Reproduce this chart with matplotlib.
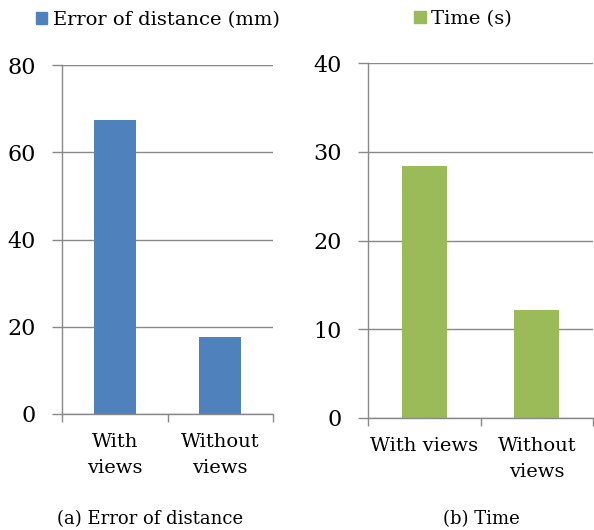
import matplotlib
matplotlib.use('Agg')
from matplotlib import pyplot as plt
from matplotlib.patches import Patch

plt.rcParams['font.family'] = ['DejaVu Serif']

labels_a = ['With\nviews', 'Without\nviews']
error_mm = [67.4, 17.7]
labels_b = ['With views', 'Without\nviews']
time_s = [28.4, 12.2]

blue = '#4F81BD'
green = '#9BBB59'
grey = '#888888'

fig = plt.figure(figsize=(5.94, 5.30), dpi=100)
ax1 = fig.add_axes([62/594, 1-414/530, 211/594, 349/530])
ax2 = fig.add_axes([368/594, 1-418/530, 225/594, 355/530])


def style(ax, labels, vals, color, ymax, step):
    x = range(len(vals))
    ax.bar(x, vals, width=0.4, color=color, zorder=3)
    ax.set_xlim(-0.5, len(vals) - 0.5)
    ax.set_ylim(0, ymax)
    ax.set_yticks(range(0, ymax + 1, step))
    ax.set_xticks(list(x))
    ax.set_xticklabels(labels, fontsize=14, linespacing=1.55)
    ax.set_xticks([i - 0.5 for i in range(len(vals) + 1)], minor=True)
    ax.tick_params(axis='x', which='major', length=0, pad=14)
    ax.tick_params(axis='x', which='minor', length=6, color=grey, width=1)
    ax.tick_params(axis='y', length=7, color=grey, width=1, labelsize=16, pad=12)
    ax.yaxis.grid(True, color=grey, linewidth=1, zorder=0)
    for s in ['top', 'right']:
        ax.spines[s].set_visible(False)
    for s in ['left', 'bottom']:
        ax.spines[s].set_color(grey)
        ax.spines[s].set_linewidth(1)
        ax.spines[s].set_zorder(4)


style(ax1, labels_a, error_mm, blue, 80, 20)
style(ax2, labels_b, time_s, green, 40, 10)

fig.legend(handles=[Patch(color=blue, label='Error of distance (mm)')],
           loc='center', bbox_to_anchor=(158/594, 1-20/530), frameon=False,
           fontsize=14, handlelength=0.6, handleheight=0.6, handletextpad=0.3)
fig.legend(handles=[Patch(color=green, label='Time (s)')],
           loc='center', bbox_to_anchor=(463/594, 1-19/530), frameon=False,
           fontsize=14, handlelength=0.6, handleheight=0.6, handletextpad=0.3)

fig.text(150/594, 1-519/530, '(a) Error of distance', ha='center', va='center', fontsize=13)
fig.text(481/594, 1-519/530, '(b) Time', ha='center', va='center', fontsize=13)

plt.savefig('out.png', dpi=100)
plt.close()
